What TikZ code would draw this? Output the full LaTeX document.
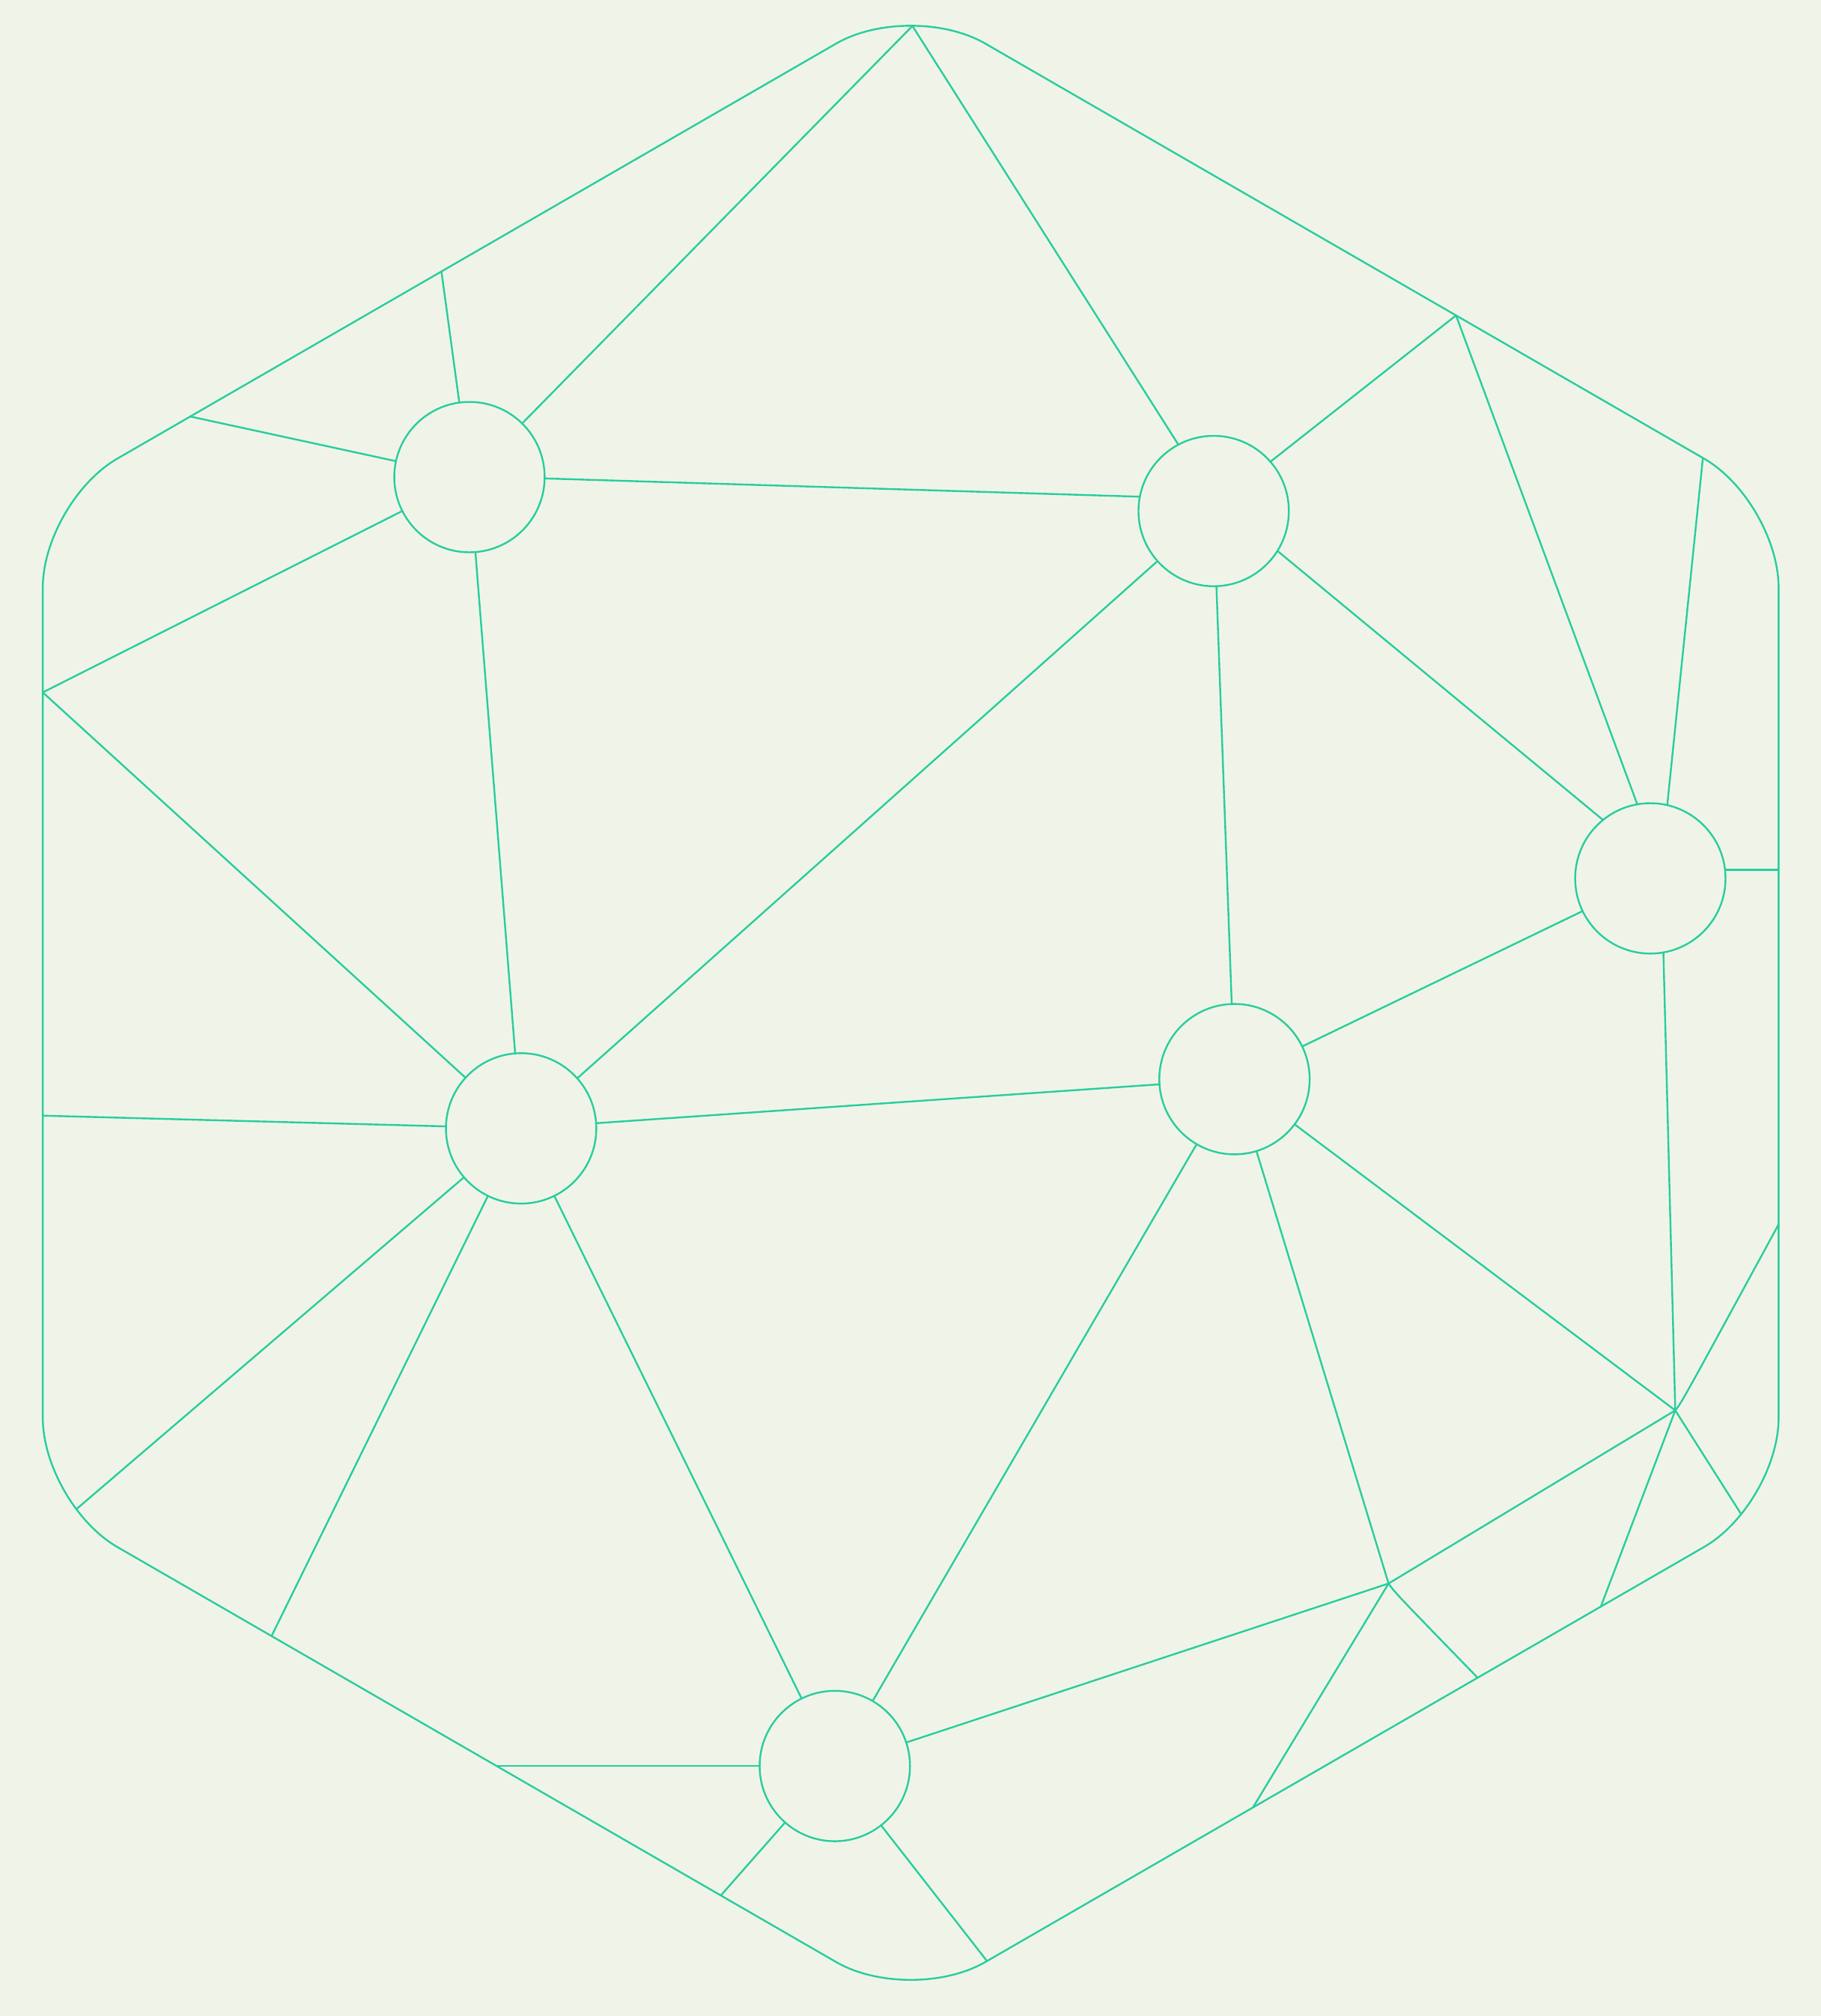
\documentclass[tikz,border=0pt]{standalone}
\usepackage{tikz}
\definecolor{bgc}{RGB}{240,244,232}
\definecolor{lnc}{RGB}{40,205,158}
\begin{document}
\begin{tikzpicture}[x=1pt,y=-1pt,
  ln/.style={draw=lnc,line width=1.4pt,line cap=round,line join=round},
  circ/.style={circle,draw=lnc,line width=1.4pt,minimum size=117pt,inner sep=0pt,outer sep=0pt}]
\fill[bgc] (0,0) rectangle (1417,1568.5);
\useasboundingbox (0,0) rectangle (1417,1568.5);
% outer rounded hexagon
\draw[ln,rounded corners=67pt] (1384,780) -- (1384,1170.1) -- (708.67,1560) -- (33.3,1170.1) -- (33.3,390.3) -- (708.67,0.4) -- (1384,390.3) -- (1384,780);
% junction points
\coordinate (T) at (710,20.2);
\coordinate (A) at (343.5,211.2);
\coordinate (B) at (147.8,324.0);
\coordinate (L1) at (33.3,538.7);
\coordinate (L2) at (33.3,868);
\coordinate (L3) at (59.6,1174);
\coordinate (D) at (211.3,1272.9);
\coordinate (E) at (386.5,1374);
\coordinate (F) at (560.9,1474.7);
\coordinate (G) at (768,1525.7);
\coordinate (H) at (975,1406.2);
\coordinate (J) at (1149.8,1305.3);
\coordinate (K) at (1245.7,1249.9);
\coordinate (M) at (1354.3,1177.2);
\coordinate (N) at (1384,952.6);
\coordinate (P) at (1384,676.7);
\coordinate (Q) at (1325.1,356.2);
\coordinate (R) at (1133,245.4);
\coordinate (U) at (1303.6,1097.3);
\coordinate (V) at (1080.5,1232);
\coordinate (UN) at (1308.6,1091.1);
\coordinate (VJ) at (1085.3,1238.9);
% circles
\node[circ] (C1) at (365.3,371.2) {};
\node[circ] (C2) at (944.4,397.6) {};
\node[circ] (C3) at (1284.2,683.4) {};
\node[circ] (C4) at (960.6,839.6) {};
\node[circ] (C5) at (405.5,877.9) {};
\node[circ] (C6) at (649.6,1374) {};
% connectors
\draw[ln] (T) -- (C1);
\draw[ln] (T) -- (C2.118);
\draw[ln] (A) -- (C1);
\draw[ln] (B) -- (C1);
\draw[ln] (L1) -- (C1);
\draw[ln] (C1.-1) -- (C2.169.6);
\draw[ln] (C1) -- (C5);
\draw[ln] (L1) -- (C5);
\draw[ln] (C2) -- (C5);
\draw[ln] (C2.41.7) -- (R);
\draw[ln] (C2.-32.3) -- (C3.129.4);
\draw[ln] (C2) -- (C4);
\draw[ln] (R) -- (C3.100);
\draw[ln] (Q) -- (C3.77);
\draw[ln] (C3.east |- P) -- (P);
\draw[ln] (C3) -- (C4);
\draw[ln] (C3.-80) -- (U);
\draw[ln] (C4) -- (C5);
\draw[ln] (C4) -- (U);
\draw[ln] (C4) -- (V);
\draw[ln] (C4) -- (C6);
\draw[ln] (L2) -- (C5);
\draw[ln] (L3) -- (C5);
\draw[ln] (D) -- (C5);
\draw[ln] (C5) -- (C6);
\draw[ln] (E) -- (C6);
\draw[ln] (F) -- (C6);
\draw[ln] (C6) -- (G);
\draw[ln] (C6) -- (V);
\draw[ln] (V) -- (U);
\draw[ln] (V) -- (H);
\draw[ln] (V) .. controls (VJ) .. (J);
\draw[ln] (U) .. controls (UN) .. (N);
\draw[ln] (U) -- (K);
\draw[ln] (U) -- (M);
\end{tikzpicture}
\end{document}
